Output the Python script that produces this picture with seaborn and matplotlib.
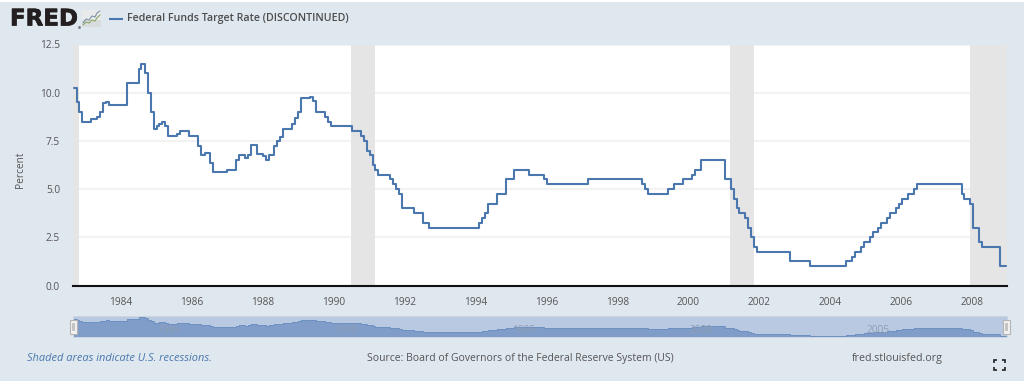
import matplotlib
matplotlib.use('Agg')
import matplotlib.pyplot as plt
import matplotlib.patheffects as pe
import pandas as pd
import seaborn as sns
from matplotlib.patches import Rectangle

# Federal funds target (decimal year a level starts, level in percent)
years = [
    1982.696, 1982.771, 1982.846, 1982.930, 1983.165, 1983.334, 1983.428, 1983.503, 1983.597, 1983.682,
    1984.179, 1984.517, 1984.592, 1984.686, 1984.771, 1984.855, 1984.940, 1985.043, 1985.099, 1985.174,
    1985.268, 1985.353, 1985.607, 1985.682, 1985.926, 1986.179, 1986.264, 1986.386, 1986.527, 1986.602,
    1987.015, 1987.259, 1987.344, 1987.503, 1987.597, 1987.682, 1987.851, 1988.010, 1988.095, 1988.179,
    1988.339, 1988.423, 1988.498, 1988.592, 1988.846, 1988.930, 1989.015, 1989.099, 1989.344, 1989.428,
    1989.513, 1989.776, 1989.860, 1989.945, 1990.517, 1990.771, 1990.855, 1990.940, 1991.024, 1991.109,
    1991.184, 1991.269, 1991.597, 1991.673, 1991.757, 1991.851, 1991.935, 1992.273, 1992.518, 1992.696,
    1994.105, 1994.189, 1994.273, 1994.349, 1994.602, 1994.856, 1995.100, 1995.522, 1995.936, 1996.020,
    1997.184, 1998.696, 1998.771, 1998.856, 1999.438, 1999.598, 1999.851, 2000.105, 2000.180, 2000.349,
    2001.025, 2001.194, 2001.278, 2001.363, 2001.438, 2001.607, 2001.692, 2001.776, 2001.861, 2001.936,
    2002.856, 2003.438, 2004.433, 2004.602, 2004.687, 2004.856, 2004.941, 2005.109, 2005.194, 2005.353,
    2005.438, 2005.607, 2005.692, 2005.860, 2005.945, 2006.020, 2006.189, 2006.358, 2006.443, 2007.701,
    2007.776, 2007.945, 2008.030, 2008.199, 2008.283, 2008.781, 2008.941,
]
rates = [
    10.25, 9.5, 9.0, 8.5, 8.625, 8.75, 9.0, 9.44, 9.5, 9.375,
    10.5, 11.25, 11.5, 11.0, 10.0, 9.0, 8.125, 8.25, 8.375, 8.5,
    8.25, 7.75, 7.875, 8.0, 7.75, 7.25, 6.75, 6.875, 6.375, 5.875,
    6.0, 6.5, 6.75, 6.625, 6.75, 7.3, 6.8, 6.7, 6.5, 6.75,
    7.25, 7.5, 7.7, 8.125, 8.375, 8.7, 9.0, 9.75, 9.8, 9.56,
    9.0, 8.75, 8.5, 8.25, 8.0, 7.75, 7.5, 7.0, 6.75, 6.25,
    6.0, 5.75, 5.5, 5.25, 5.0, 4.75, 4.0, 3.75, 3.25, 3.0,
    3.25, 3.5, 3.75, 4.25, 4.75, 5.5, 6.0, 5.75, 5.5, 5.25,
    5.5, 5.25, 5.0, 4.75, 5.0, 5.25, 5.5, 5.75, 6.0, 6.5,
    5.5, 5.0, 4.5, 4.0, 3.75, 3.5, 3.0, 2.5, 2.0, 1.75,
    1.25, 1.0, 1.25, 1.5, 1.75, 2.0, 2.25, 2.5, 2.75, 3.0,
    3.25, 3.5, 3.75, 4.0, 4.25, 4.5, 4.75, 5.0, 5.25, 4.75,
    4.5, 4.25, 3.0, 2.25, 2.0, 1.0, 1.0,
]
recession_start = [1982.6, 1990.50, 2001.175, 2007.94]
recession_end = [1982.84, 1991.165, 2001.85, 2009.0]
y_ticks = [0, 2.5, 5, 7.5, 10, 12.5]
x_ticks = list(range(1984, 2009, 2))
nav_ticks = [1985, 1990, 1995, 2000, 2005]

W, H = 1024, 382
BG = '#dfe7ef'
BLUE = '#4a77ad'
TXT = '#555555'
FONT = ['Open Sans', 'DejaVu Sans']

sns.set_theme(style='white')
plt.rcParams['font.family'] = FONT

df = pd.DataFrame({'year': years, 'rate': rates})


def px_axes(left, top, right, bottom, **kw):
    return fig.add_axes([left / W, 1 - bottom / H, (right - left) / W, (bottom - top) / H], **kw)


fig = plt.figure(figsize=(W / 100, H / 100), dpi=100, facecolor='white')

# page chrome, in pixel coordinates
page = px_axes(0, 0, W, H)
page.set_xlim(0, W)
page.set_ylim(H, 0)
page.axis('off')
page.add_patch(Rectangle((0, 1.5), W, 379, color=BG, lw=0))

# x scale: 1984 sits at px 120.3, 35.5 px per year
xlim = (1984 - (120.3 - 73.3) / 35.5, 2008 + (1007.3 - 972.3) / 35.5)

# main chart
ax = px_axes(73.3, 44.5, 1007.3, 285.5)
ax.set_facecolor('white')
for s0, s1 in zip(recession_start, recession_end):
    ax.axvspan(s0, s1, color='#e5e5e5', lw=0, zorder=2)
ax.grid(axis='y', color='#f2f2f2', lw=1.5, zorder=1)
ax.set_axisbelow(True)
sns.lineplot(data=df, x='year', y='rate', drawstyle='steps-post', color=BLUE, lw=1.5,
             estimator=None, legend=False, ax=ax, zorder=3)
ax.set_xlim(*xlim)
ax.set_ylim(0, 12.5)
ax.set_xticks(x_ticks)
ax.set_yticks(y_ticks)
ax.set_yticklabels([f'{v:.1f}' for v in y_ticks])
ax.tick_params(axis='x', length=6, width=0.8, color='#ccd6eb', labelsize=7.3, labelcolor=TXT, pad=2.6)
ax.tick_params(axis='y', length=0, labelsize=7.3, labelcolor=TXT, pad=9.5)
ax.set_xlabel('')
ax.set_ylabel('')
for side in ['top', 'left', 'right']:
    ax.spines[side].set_visible(False)
ax.spines['bottom'].set_color('#111111')
ax.spines['bottom'].set_linewidth(1.5)
ax.spines['bottom'].set_zorder(5)

# navigator strip
nav = px_axes(73.3, 315.7, 1007.3, 337.3)
nav.set_facecolor('#b9c9e2')
nav.fill_between(years, rates, 0, step='post', color='#7f9dc8', lw=0, zorder=2)
sns.lineplot(data=df, x='year', y='rate', drawstyle='steps-post', color='#6a8fc0', lw=0.6,
             estimator=None, legend=False, ax=nav, zorder=3)
nav.set_xlim(*xlim)
nav.set_ylim(0, 12.2)
nav.set_xticks([])
nav.set_yticks([])
nav.set_xlabel('')
nav.set_ylabel('')
for t in nav_ticks:
    nav.text(t + 0.03, 3.6, str(t), color='#8f9db3', fontsize=7.3, ha='left', va='center', zorder=4)
for spine in nav.spines.values():
    spine.set_color('#cdd5e0')
    spine.set_linewidth(0.7)

# header and footer text
page2 = px_axes(0, 0, W, H)
page2.set_xlim(0, W)
page2.set_ylim(H, 0)
page2.axis('off')
page2.patch.set_alpha(0)

page2.text(10, 19, 'FRED', family='DejaVu Sans', weight='bold', fontsize=16.5, color='#231f20',
           ha='left', va='center', path_effects=[pe.withStroke(linewidth=0.5, foreground='#231f20')])
page2.plot([78.5], [26.5], marker='o', ms=1, color='#777777')

# small chart icon next to the logo
page2.add_patch(Rectangle((82, 10), 18.5, 17, color='#e9ebeb', lw=0))
page2.add_patch(Rectangle((82, 20), 18.5, 7, color='#d9dcdc', lw=0))
icon_x = [83, 86, 89, 92, 95, 97, 100]
icon_green = [25, 22, 23, 20, 21, 18, 15]
icon_gray = [23, 19, 20, 16, 17, 13, 11]
page2.plot(icon_x, icon_green, color='#8aa866', lw=0.8)
page2.plot(icon_x, icon_gray, color='#7f93a8', lw=0.8)

page2.plot([109, 123], [18.5, 18.5], color=BLUE, lw=1.5, solid_capstyle='butt')
page2.text(127, 18.5, 'Federal Funds Target Rate (DISCONTINUED)', fontsize=7.7, weight='semibold', color='#4d4d4d',
           ha='left', va='center')
page2.text(21, 170, 'Percent', rotation=90, fontsize=7.3, color=TXT, ha='center', va='center')
page2.text(27, 358.5, 'Shaded areas indicate U.S. recessions.', fontsize=7.9, style='italic', color=BLUE,
           ha='left', va='center')
page2.text(367, 358.5, 'Source: Board of Governors of the Federal Reserve System (US)', fontsize=7.5, color=TXT,
           ha='left', va='center')
page2.text(852, 358.5, 'fred.stlouisfed.org', fontsize=7.65, color=TXT, ha='left', va='center')

# navigator handles
for x0 in [70, 1003]:
    page2.add_patch(Rectangle((x0, 320), 7, 14, facecolor='#f2f2f2', edgecolor='#b5b5b5', lw=0.8, zorder=6))
    page2.add_patch(Rectangle((x0 + 2.2, 323), 2.6, 8, facecolor='#c4c4c4', lw=0, zorder=7))

# full screen icon corners
for cx, sx in [(993.5, 1), (1005, -1)]:
    for cy, sy in [(359.5, 1), (369.5, -1)]:
        page2.plot([cx + 3 * sx, cx, cx], [cy, cy, cy + 3 * sy], color='#222222', lw=1.2,
                   solid_joinstyle='miter', solid_capstyle='butt')

fig.savefig('out.png', dpi=100, facecolor=fig.get_facecolor())
